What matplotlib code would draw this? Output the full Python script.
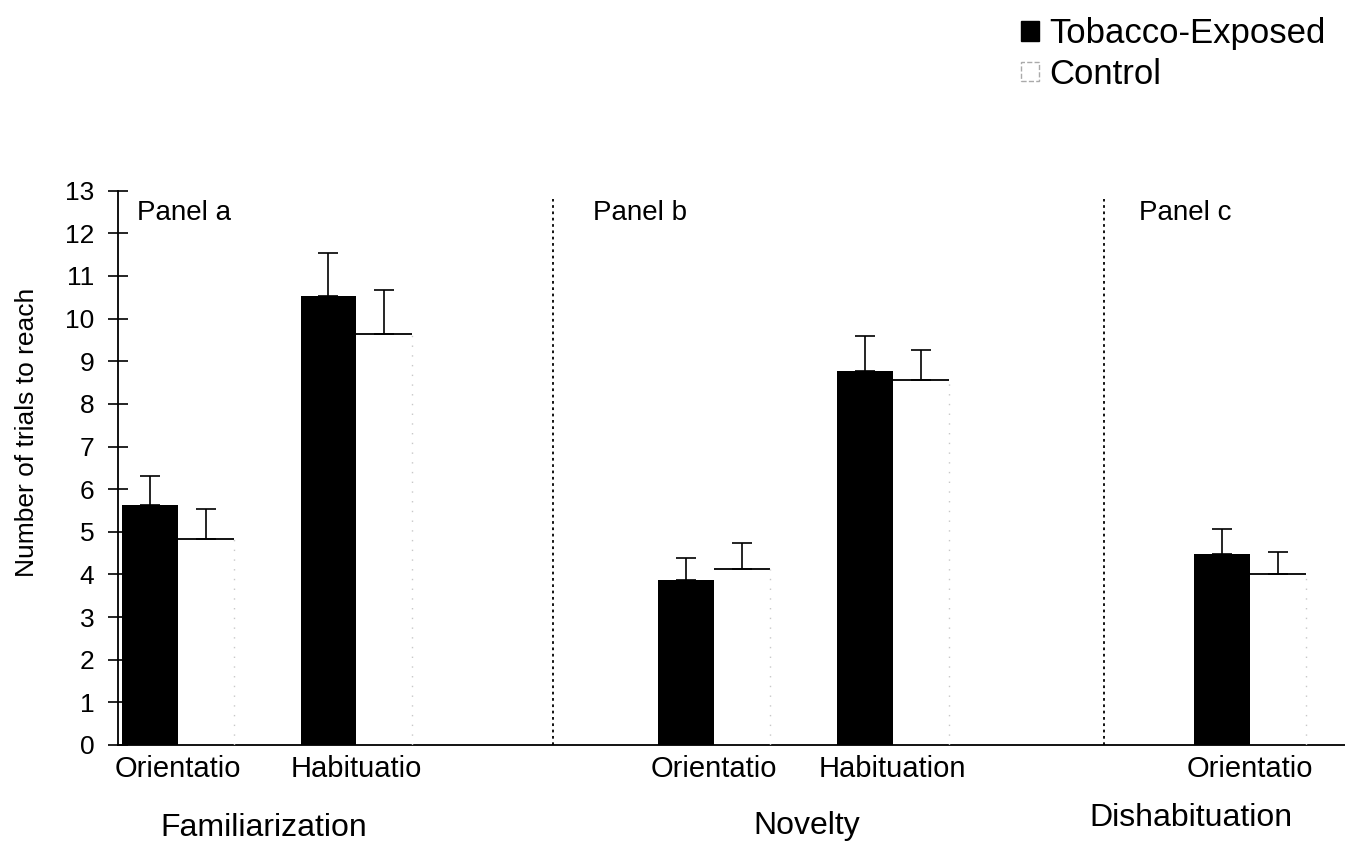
import numpy as np
import matplotlib
matplotlib.use('Agg')
import matplotlib.pyplot as plt
from matplotlib.patches import Patch

plt.rcParams['font.family'] = ['Liberation Sans', 'DejaVu Sans']

# category slots (gaps between phases are empty slots)
positions = [0, 1, 3, 4, 6]
tick_labels = ['Orientatio', 'Habituatio', 'Orientatio', 'Habituation', 'Orientatio']

# mean number of trials and upper error (mean + SE)
tobacco = [5.62, 10.54, 3.88, 8.78, 4.49]
tobacco_err = [0.70, 1.00, 0.51, 0.81, 0.58]
control = [4.82, 9.64, 4.12, 8.56, 4.02]
control_err = [0.71, 1.03, 0.62, 0.71, 0.51]

phase_names = ['Familiarization', 'Novelty', 'Dishabituation']
panel_names = ['Panel a', 'Panel b', 'Panel c']

W, H = 1345, 842
fig = plt.figure(figsize=(W / 100, H / 100), dpi=100)
ax = fig.add_axes([118 / W, 1 - 745 / H, (W - 118) / W, (745 - 190.7) / H])

bw = 0.313
x = np.array(positions, dtype=float)

ax.bar(x - bw / 2, tobacco, bw, color='black', zorder=2)
ax.bar(x + bw / 2, control, bw, color='white', edgecolor='none', zorder=2)
# control bars only show their top edge, with a faint dotted right side
ax.hlines(control, x, x + bw, color='black', lw=1.3, zorder=3)
ax.vlines(x + bw, 0, control, color='#c8c8c8', lw=1.0, linestyles=(0, (1, 6)), zorder=3)

# upper error bars only
ax.errorbar(x - bw / 2, tobacco, yerr=[np.zeros(5), tobacco_err], fmt='none',
            ecolor='black', elinewidth=1.2, capsize=7, capthick=1.2, zorder=4)
ax.errorbar(x + bw / 2, control, yerr=[np.zeros(5), control_err], fmt='none',
            ecolor='black', elinewidth=1.2, capsize=7, capthick=1.2, zorder=4)

# dotted separators between phases
for xd in [2.10, 5.18]:
    ax.axvline(xd, ymin=0, ymax=0.985, color='black', lw=1.3, linestyle=(0, (1.5, 2)))

ax.set_xlim(-0.334, 6.53)
ax.set_ylim(0, 13)
ax.set_yticks(range(0, 14))
ax.set_xticks(positions)
ax.set_xticklabels(tick_labels, fontsize=21)
ax.tick_params(axis='x', length=0, pad=7)
ax.tick_params(axis='y', direction='inout', length=14, width=1.2, labelsize=19, pad=10)
for s in ['top', 'right']:
    ax.spines[s].set_visible(False)
ax.spines['left'].set_linewidth(1.3)
ax.spines['bottom'].set_linewidth(1.3)

for px, name in zip([-0.228, 2.323, 5.38], panel_names):
    ax.text(px, 12.47, name, fontsize=20, va='center', ha='left')

for cx, cy, name in zip([264, 807, 1191], [828, 826, 818], phase_names):
    fig.text(cx / W, 1 - cy / H, name, fontsize=23, ha='center', va='center')

fig.text(27 / W, 1 - 432 / H, 'Number of trials to reach', rotation=90,
         fontsize=19, ha='center', va='center')

handles = [Patch(facecolor='black', edgecolor='black'),
           Patch(facecolor='white', edgecolor='#aaaaaa', linestyle='--')]
fig.legend(handles, ['Tobacco-Exposed', 'Control'], loc='upper left',
           bbox_to_anchor=(990 / W, 1 + 14 / H), frameon=False, fontsize=25,
           handlelength=0.5, handleheight=0.5, handletextpad=0.3, labelspacing=0.22)

fig.savefig('out.png', dpi=100)
